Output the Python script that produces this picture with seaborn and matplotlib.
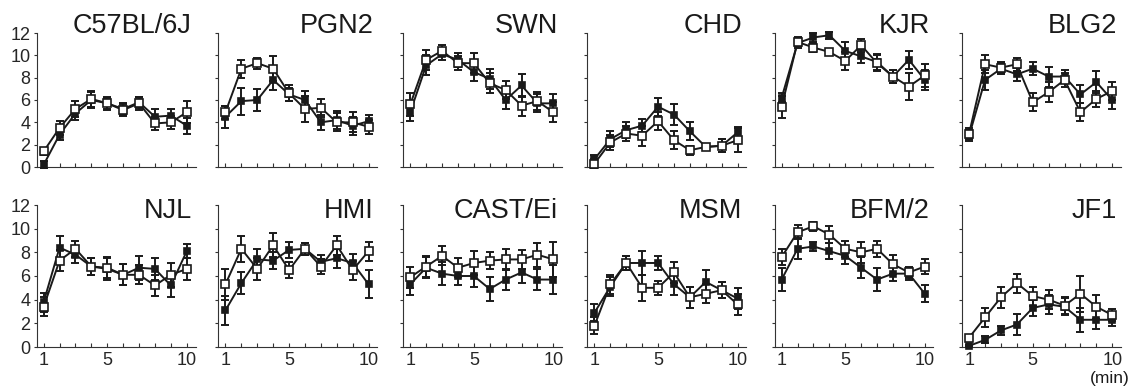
import numpy as np
import pandas as pd
import matplotlib
matplotlib.use("Agg")
import matplotlib.pyplot as plt
import seaborn as sns

strains = ["C57BL/6J", "PGN2", "SWN", "CHD", "KJR", "BLG2",
           "NJL", "HMI", "CAST/Ei", "MSM", "BFM/2", "JF1"]
minutes = list(range(1, 11))

# filled squares
filled_mean = [
    [0.2, 2.9, 4.8, 6.0, 5.7, 5.2, 5.8, 4.5, 4.6, 3.7],
    [4.5, 5.9, 6.0, 7.8, 6.5, 6.0, 4.0, 4.2, 3.7, 4.1],
    [4.9, 9.1, 10.1, 9.6, 8.5, 7.9, 6.0, 7.3, 5.7, 5.7],
    [0.7, 2.5, 3.3, 3.7, 5.4, 4.7, 3.2, 1.8, 1.9, 3.1],
    [6.2, 11.1, 11.6, 11.8, 10.4, 9.9, 9.4, 8.1, 9.6, 7.8],
    [2.8, 7.8, 8.8, 8.3, 8.8, 8.1, 8.1, 6.5, 7.6, 6.0],
    [3.8, 8.4, 7.8, 6.8, 6.6, 6.1, 6.7, 6.6, 5.2, 8.1],
    [3.1, 5.4, 7.4, 7.3, 8.2, 8.3, 7.2, 7.5, 7.1, 5.3],
    [5.3, 6.7, 6.2, 6.0, 6.0, 4.9, 5.7, 6.3, 5.7, 5.7],
    [2.9, 5.1, 7.1, 7.1, 7.1, 5.3, 4.2, 5.5, 4.8, 4.1],
    [5.7, 8.3, 8.5, 8.1, 7.7, 6.7, 5.7, 6.2, 6.2, 4.5],
    [0.1, 0.6, 1.4, 1.9, 3.3, 3.6, 3.4, 2.3, 2.3, 2.3],
]
filled_sem = [
    [0.3, 0.5, 0.6, 0.7, 0.5, 0.5, 0.5, 0.7, 0.6, 0.7],
    [1.0, 1.2, 1.0, 0.9, 0.6, 0.8, 0.7, 0.8, 0.8, 0.6],
    [0.8, 0.9, 0.5, 0.6, 0.8, 0.9, 0.8, 1.0, 0.8, 0.8],
    [0.4, 0.7, 0.7, 0.6, 0.8, 0.9, 0.8, 0.3, 0.6, 0.5],
    [0.4, 0.4, 0.4, 0.3, 0.8, 0.6, 0.7, 0.6, 0.8, 0.9],
    [0.5, 0.9, 0.5, 0.6, 0.6, 0.9, 0.6, 0.8, 1.0, 0.8],
    [0.8, 1.0, 0.7, 0.7, 0.9, 0.9, 1.0, 0.9, 1.0, 0.6],
    [1.2, 0.9, 0.9, 0.7, 0.7, 0.5, 0.6, 0.8, 0.8, 1.2],
    [0.9, 0.9, 1.0, 0.8, 0.9, 1.0, 0.9, 0.9, 0.9, 1.2],
    [0.7, 0.8, 0.6, 1.0, 0.6, 0.9, 0.9, 1.0, 0.7, 0.9],
    [1.0, 0.9, 0.4, 0.7, 0.7, 0.9, 1.0, 0.6, 0.5, 0.7],
    [0.1, 0.3, 0.4, 0.9, 0.7, 0.8, 0.7, 1.0, 0.8, 0.5],
]
# open squares
open_mean = [
    [1.4, 3.5, 5.2, 6.1, 5.7, 5.1, 5.7, 3.9, 4.0, 4.9],
    [4.9, 8.8, 9.3, 8.8, 6.6, 5.2, 5.3, 4.0, 4.0, 3.6],
    [5.6, 9.6, 10.4, 9.3, 9.3, 7.5, 6.9, 5.5, 5.9, 4.9],
    [0.3, 2.2, 3.0, 2.8, 4.1, 2.4, 1.5, 1.8, 1.9, 2.4],
    [5.4, 11.2, 10.7, 10.3, 9.5, 10.9, 9.3, 8.1, 7.2, 8.2],
    [3.0, 9.2, 8.9, 9.2, 5.8, 6.7, 7.8, 4.9, 6.1, 6.8],
    [3.4, 7.3, 8.3, 6.8, 6.7, 6.1, 6.1, 5.2, 6.1, 6.6],
    [5.3, 8.3, 6.6, 8.6, 6.5, 8.3, 6.8, 8.6, 6.5, 8.1],
    [5.9, 6.8, 7.7, 6.7, 7.1, 7.3, 7.4, 7.4, 7.8, 7.4],
    [1.8, 5.3, 7.1, 5.0, 5.0, 6.3, 4.2, 4.5, 4.8, 3.6],
    [7.6, 9.7, 10.2, 9.5, 8.3, 8.0, 8.3, 7.0, 6.3, 6.8],
    [0.8, 2.5, 4.2, 5.4, 4.3, 4.0, 3.5, 4.5, 3.4, 2.7],
]
open_sem = [
    [0.3, 0.6, 0.7, 0.7, 0.6, 0.5, 0.6, 0.6, 0.6, 1.0],
    [0.6, 0.8, 0.5, 1.1, 0.7, 1.2, 0.8, 0.8, 0.9, 0.6],
    [1.0, 0.9, 0.5, 0.6, 0.9, 0.9, 0.8, 0.9, 0.8, 0.9],
    [0.4, 0.7, 0.7, 0.9, 0.8, 0.8, 0.4, 0.3, 0.6, 1.1],
    [1.0, 0.4, 0.4, 0.3, 0.8, 0.6, 0.7, 0.6, 1.2, 1.0],
    [0.5, 0.8, 0.5, 0.6, 0.8, 0.9, 0.6, 0.8, 0.7, 0.8],
    [0.8, 0.9, 0.7, 0.7, 0.9, 0.9, 0.8, 0.9, 1.0, 0.9],
    [1.3, 1.1, 0.9, 1.0, 0.7, 0.5, 0.6, 0.8, 0.8, 0.8],
    [0.9, 0.9, 0.8, 0.8, 1.0, 0.7, 0.9, 0.8, 1.0, 1.5],
    [0.7, 0.8, 0.6, 1.1, 0.6, 0.9, 0.9, 0.8, 0.7, 0.9],
    [0.7, 0.6, 0.4, 0.7, 0.7, 0.9, 0.7, 0.8, 0.5, 0.6],
    [0.2, 0.8, 0.9, 0.8, 0.8, 0.8, 0.7, 1.5, 1.0, 0.5],
]

rows = []
for s, name in enumerate(strains):
    for i, m in enumerate(minutes):
        rows.append((name, m, "filled", filled_mean[s][i], filled_sem[s][i]))
        rows.append((name, m, "open", open_mean[s][i], open_sem[s][i]))
df = pd.DataFrame(rows, columns=["strain", "minute", "group", "mean", "sem"])

sns.set_style("ticks")
plt.rcParams["font.family"] = ["Liberation Sans", "DejaVu Sans"]

W, H = 1138, 388
fig = plt.figure(figsize=(W / 100, H / 100), dpi=100)

lefts = [36.5, 218.3, 403.1, 587.3, 774.5, 962.0]
panel_w = 159
# (pixel y of zero line, height in px, title baseline in axes fraction)
row_box = [(167, 134, 1.0), (347, 142, 0.908)]
ink = "#1a1a1a"

for k, name in enumerate(strains):
    r, c = divmod(k, 6)
    y0, hh, tb = row_box[r]
    ax = fig.add_axes([lefts[c] / W, (H - y0) / H, panel_w / W, hh / H])
    d = df[df["strain"] == name]

    for grp, face, ms, z in [("filled", ink, 4.5, 3), ("open", "white", 6, 4)]:
        g = d[d["group"] == grp]
        ax.errorbar(g["minute"], g["mean"], yerr=g["sem"], fmt="none",
                    ecolor=ink, elinewidth=1.4, capsize=2.8, capthick=1.4,
                    zorder=z - 1, clip_on=False)
        sns.lineplot(data=g, x="minute", y="mean", ax=ax, color=ink, lw=1.4,
                     marker="s", markersize=ms, markerfacecolor=face,
                     markeredgecolor=ink, markeredgewidth=1.2,
                     errorbar=None, zorder=z, clip_on=False)

    ax.set_xlim(0.55, 10.55)
    ax.set_ylim(0, 12)
    ax.set_xlabel("")
    ax.set_ylabel("")
    ax.set_yticks(range(0, 13, 2))
    ax.set_xticks(minutes)
    if c == 0:
        ax.set_yticklabels([str(v) for v in range(0, 13, 2)])
    else:
        ax.set_yticklabels([])
    if r == 1:
        ax.set_xticklabels([str(m) if m in (1, 5, 10) else "" for m in minutes])
    else:
        ax.set_xticklabels([])
    sns.despine(ax=ax)
    for sp in ("left", "bottom"):
        ax.spines[sp].set_color("#333333")
        ax.spines[sp].set_linewidth(0.8)
    ax.tick_params(axis="x", direction="in", length=3, width=0.8,
                   color="#333333", labelsize=13, pad=3.5)
    ax.tick_params(axis="y", direction="out", length=2.5, width=0.8,
                   color="#333333", labelsize=13, pad=2)
    ax.text(0.975, tb, name, transform=ax.transAxes, ha="right",
            va="baseline", fontsize=19.5, color=ink)

fig.text(1110 / W, 1 - 379 / H, "(min)", ha="center", va="center",
         fontsize=12.5, color=ink)

fig.savefig("out.png", dpi=100)
